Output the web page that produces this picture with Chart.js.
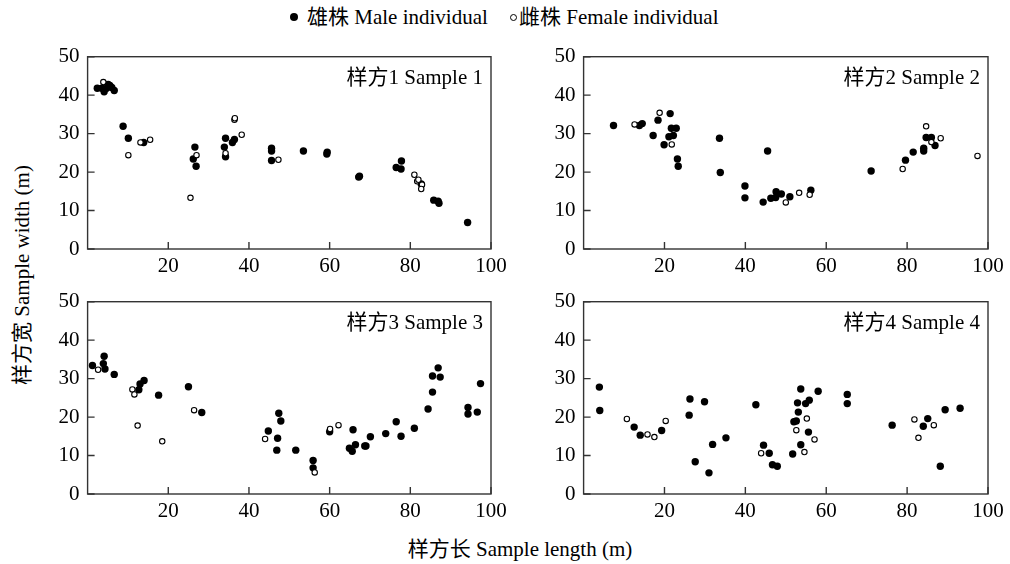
<!DOCTYPE html>
<html><head><meta charset="utf-8">
<script src="https://cdn.jsdelivr.net/npm/chart.js@4.4.1/dist/chart.umd.min.js"></script>
<style>
html,body{margin:0;padding:0;background:#fff;}
#wrap{position:relative;width:1010px;height:564px;overflow:hidden;font-family:'Liberation Serif','Noto Sans CJK SC',serif;color:#000;}
.cv{position:absolute;}
.txt{position:absolute;white-space:nowrap;font-size:21px;line-height:1;}
.dot{position:absolute;border-radius:50%;box-sizing:border-box;}
</style></head><body>
<div id="wrap">
  <span class="dot" style="left:290px;top:13px;width:8px;height:8px;background:#000"></span>
  <span class="txt" style="left:307px;top:7px">雄株 Male individual</span>
  <span class="dot" style="left:510px;top:14px;width:7px;height:7px;border:1px solid #000;background:#fff"></span>
  <span class="txt" style="left:519px;top:7px">雌株 Female individual</span>
  <div class="txt" style="left:22px;top:275px;transform:translate(-50%,-50%) rotate(-90deg)">样方宽 Sample width (m)</div>
  <div class="txt" style="left:520px;top:549px;transform:translate(-50%,-50%)">样方长 Sample length (m)</div>
  <div class="cv" style="left:30px;top:40px"><canvas id="c1" width="490" height="240"></canvas></div>
  <div class="cv" style="left:526px;top:40px"><canvas id="c2" width="484" height="240"></canvas></div>
  <div class="cv" style="left:30px;top:285px"><canvas id="c3" width="490" height="240"></canvas></div>
  <div class="cv" style="left:526px;top:285px"><canvas id="c4" width="484" height="240"></canvas></div>
</div>
<script>
// ---- data (x = sample length m, y = sample width m) ----
const panelLabels = ['样方1 Sample 1', '样方2 Sample 2', '样方3 Sample 3', '样方4 Sample 4'];
const seriesNames = ['雄株 Male individual', '雌株 Female individual'];
const xTicks = [20, 40, 60, 80, 100];
const yTicks = [0, 10, 20, 30, 40, 50];

const sample1Male = [[2.4,41.8],[3.5,41.8],[4.1,40.9],[4.7,41.8],[5.1,42.8],[5.5,42.5],[6.0,42.0],[6.6,41.2],[8.8,31.9],[10.1,28.8],[13.9,27.7],[26.6,26.5],[26.2,23.4],[26.9,21.5],[33.9,26.5],[34.2,28.8],[34.2,24.0],[35.9,27.7],[36.4,28.5],[45.6,26.2],[45.6,25.5],[45.6,23.0],[53.5,25.5],[59.3,24.7],[59.4,25.2],[67.2,18.7],[67.4,18.9],[76.5,21.2],[77.8,22.9],[77.7,20.8],[82.7,16.9],[85.8,12.7],[86.9,12.4],[87.1,11.9],[94.2,6.9]];
const sample1Female = [[3.9,43.4],[10.1,24.4],[13.1,27.7],[15.5,28.4],[25.5,13.3],[27.0,24.4],[34.2,24.9],[36.4,33.6],[36.5,34.0],[38.2,29.7],[47.3,23.2],[81.0,19.3],[81.7,17.6],[82.0,18.0],[82.9,16.7],[82.7,15.6]];

const sample2Male = [[7.4,32.1],[13.8,32.1],[14.5,32.6],[18.4,33.5],[17.2,29.5],[21.4,35.2],[21.7,31.4],[22.9,31.4],[21.1,29.2],[22.2,29.5],[19.9,27.1],[23.2,23.4],[23.4,21.5],[33.6,28.8],[33.8,19.9],[39.9,16.4],[39.9,13.3],[44.4,12.2],[45.5,25.5],[46.3,13.2],[47.5,13.4],[47.6,14.9],[48.9,14.3],[51.0,13.6],[56.2,15.3],[71.1,20.3],[79.6,23.1],[81.5,25.2],[84.1,25.5],[84.1,26.2],[84.7,29.0],[86.0,29.0],[86.9,26.9]];
const sample2Female = [[12.6,32.4],[18.8,35.4],[21.8,27.2],[50.0,12.1],[53.3,14.6],[55.9,14.1],[78.9,20.8],[84.7,31.9],[86.0,27.8],[88.3,28.8],[97.4,24.2]];

const sample3Male = [[1.2,33.4],[4.1,35.8],[3.9,33.9],[4.3,32.5],[6.6,31.1],[12.7,27.1],[13.0,28.6],[14.0,29.5],[17.6,25.7],[25.0,27.9],[28.3,21.2],[44.8,16.4],[47.4,21.0],[47.1,14.5],[46.9,11.4],[47.9,19.0],[51.6,11.4],[55.9,8.7],[55.9,6.8],[60.0,16.2],[65.8,16.7],[64.9,11.9],[65.6,11.1],[66.4,12.8],[68.7,12.5],[69.0,12.5],[70.1,14.9],[73.9,15.7],[76.5,18.8],[77.7,15.0],[81.0,17.1],[84.4,22.1],[85.5,26.5],[85.5,30.7],[86.9,32.8],[87.4,30.4],[94.3,22.5],[94.3,20.8],[96.6,21.3],[97.4,28.7]];
const sample3Female = [[2.6,32.3],[11.1,27.2],[11.6,25.9],[12.4,17.8],[18.5,13.7],[26.4,21.8],[44.0,14.3],[56.3,5.6],[60.1,16.9],[62.2,17.9]];

const sample4Male = [[3.9,27.8],[4.0,21.7],[12.5,17.4],[14.0,15.3],[19.3,16.5],[26.3,24.7],[26.1,20.5],[27.6,8.4],[29.9,24.0],[31.9,12.9],[31.0,5.5],[35.2,14.6],[42.6,23.2],[44.5,12.7],[45.9,10.6],[46.7,7.6],[47.9,7.2],[51.7,10.4],[53.7,27.3],[52.9,23.7],[53.1,21.3],[52.0,18.8],[52.6,19.0],[53.7,12.8],[54.9,23.5],[55.8,24.4],[55.6,16.1],[58.0,26.7],[65.2,25.9],[65.2,23.5],[76.3,17.9],[84.0,17.6],[85.1,19.6],[88.2,7.2],[89.4,21.9],[93.1,22.3]];
const sample4Female = [[10.7,19.5],[15.8,15.5],[17.5,14.8],[20.3,19.0],[43.9,10.6],[52.6,16.6],[54.6,10.9],[55.2,19.6],[57.1,14.2],[81.8,19.4],[82.8,14.6],[86.6,17.9]];

const panels = [
  {id:'c1', male:sample1Male, female:sample1Female, label:panelLabels[0], padRight:29},
  {id:'c2', male:sample2Male, female:sample2Female, label:panelLabels[1], padRight:22},
  {id:'c3', male:sample3Male, female:sample3Female, label:panelLabels[2], padRight:29},
  {id:'c4', male:sample4Male, female:sample4Female, label:panelLabels[3], padRight:22}
];

const FONT = {family:"'Liberation Serif','Noto Sans CJK SC',serif", size:21};
const AXIS_COLOR = '#333';

const framePlugin = {
  id: 'frame',
  beforeDatasetsDraw(chart) {
    const {ctx, chartArea:a, scales} = chart;
    ctx.save();
    ctx.strokeStyle = AXIS_COLOR;
    ctx.lineWidth = 1.4;
    ctx.strokeRect(a.left, a.top, a.right - a.left, a.bottom - a.top);
    ctx.beginPath();
    scales.x.ticks.forEach(t => {
      const px = scales.x.getPixelForValue(t.value);
      ctx.moveTo(px, a.bottom); ctx.lineTo(px, a.bottom - 7);
    });
    scales.y.ticks.forEach(t => {
      const py = scales.y.getPixelForValue(t.value);
      ctx.moveTo(a.left, py); ctx.lineTo(a.left + 7, py);
    });
    ctx.stroke();
    ctx.restore();
  },
  afterDraw(chart, args, opts) {
    const {ctx, chartArea:a} = chart;
    ctx.save();
    ctx.fillStyle = '#000';
    ctx.font = "21px 'Liberation Serif','Noto Sans CJK SC',serif";
    ctx.textAlign = 'right';
    ctx.textBaseline = 'middle';
    ctx.fillText(opts.text, a.right - 8, a.top + 22);
    ctx.restore();
  }
};

const toPts = arr => arr.map(p => ({x:p[0], y:p[1]}));

panels.forEach(p => {
  new Chart(document.getElementById(p.id), {
    type: 'scatter',
    data: {
      datasets: [
        {label: seriesNames[1], data: toPts(p.female), order: 0,
         pointRadius: 2.7, pointBackgroundColor: '#fff', pointBorderColor: '#000', pointBorderWidth: 1.1, pointHoverRadius: 2.7},
        {label: seriesNames[0], data: toPts(p.male), order: 1,
         pointRadius: 3.7, pointBackgroundColor: '#000', pointBorderColor: '#000', pointBorderWidth: 0, pointHoverRadius: 3.7}
      ]
    },
    options: {
      responsive: false,
      animation: false,
      events: [],
      layout: {padding: {top: 16.7, right: p.padRight, left: 0, bottom: 0}},
      plugins: {legend: {display: false}, tooltip: {enabled: false}, frame: {text: p.label}},
      scales: {
        x: {
          type: 'linear', min: 0, max: 100,
          afterBuildTicks: s => { s.ticks = xTicks.map(v => ({value: v})); },
          afterFit: s => { s.height = 31; s.paddingLeft = 0; s.paddingRight = 0; },
          grid: {display: false, drawTicks: false},
          border: {display: false},
          ticks: {color: '#000', font: FONT, padding: 5, maxRotation: 0, autoSkip: false}
        },
        y: {
          type: 'linear', min: 0, max: 50,
          afterBuildTicks: s => { s.ticks = yTicks.map(v => ({value: v})); },
          afterFit: s => { s.width = 57.6; s.paddingTop = 0; s.paddingBottom = 0; },
          grid: {display: false, drawTicks: false},
          border: {display: false},
          ticks: {color: '#000', font: FONT, padding: 8, autoSkip: false}
        }
      }
    },
    plugins: [framePlugin]
  });
});
</script>
</body></html>
